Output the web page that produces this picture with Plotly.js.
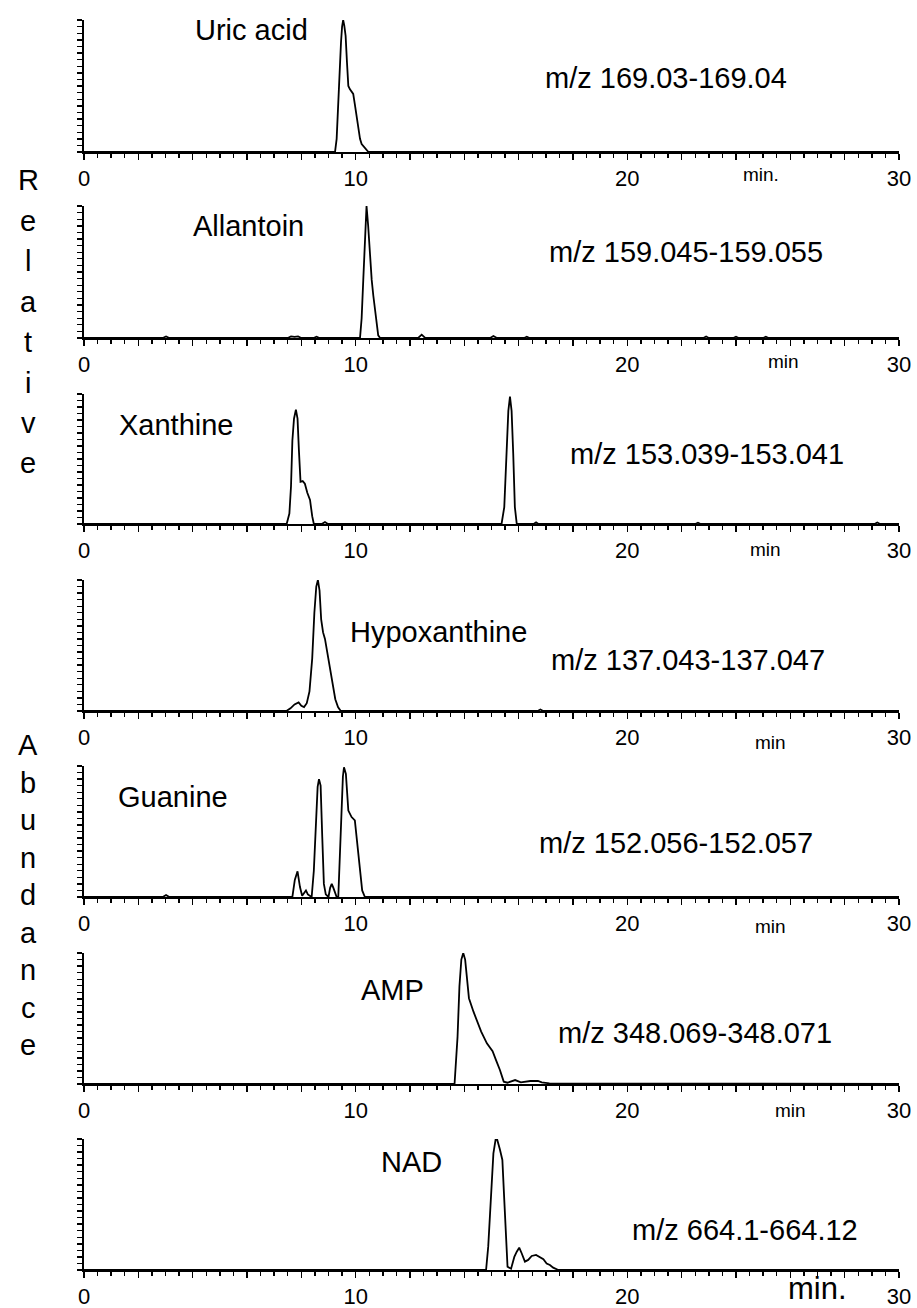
<!DOCTYPE html>
<html>
<head>
<meta charset="utf-8">
<script src="https://cdn.plot.ly/plotly-3.0.1.min.js"></script>
<style>html,body{margin:0;padding:0;background:#fff}#chart{width:917px;height:1308px}</style>
</head>
<body>
<div id="chart"></div>
<script>
// ---- data (retention time in min, relative abundance 0..1) ----
const compoundNames = ["Uric acid", "Allantoin", "Xanthine", "Hypoxanthine", "Guanine", "AMP", "NAD"];
const mzLabels = ["m/z 169.03-169.04", "m/z 159.045-159.055", "m/z 153.039-153.041", "m/z 137.043-137.047", "m/z 152.056-152.057", "m/z 348.069-348.071", "m/z 664.1-664.12"];
const minLabels = ["min.", "min", "min", "min", "min", "min", "min."];
const xTickLabels = ["0", "10", "20", "30"];
const sideWords = ["Relative", "Abundance"];

const uricT = [0, 9.24, 9.30, 9.36, 9.42, 9.46, 9.50, 9.54, 9.58, 9.63, 9.68, 9.73, 9.79, 9.85, 9.91, 9.97, 10.04, 10.10, 10.16, 10.22, 10.28, 10.36, 10.47, 30];
const uricY = [0, 0, 0.10, 0.42, 0.70, 0.83, 0.95, 1.0, 0.96, 0.88, 0.68, 0.50, 0.475, 0.46, 0.44, 0.36, 0.27, 0.18, 0.10, 0.06, 0.045, 0.025, 0.0, 0];

const allT = [0, 2.9, 3.02, 3.14, 7.5, 7.62, 7.75, 7.88, 8.0, 8.45, 8.56, 8.67, 10.16, 10.22, 10.28, 10.34, 10.40, 10.46, 10.53, 10.59, 10.65, 10.71, 10.77, 10.83, 10.9, 12.3, 12.43, 12.56, 14.95, 15.07, 15.2, 16.2, 16.3, 16.4, 22.8, 22.9, 23.0, 23.9, 24.0, 24.1, 25.0, 25.1, 25.2, 30];
const allY = [0, 0, 0.012, 0, 0, 0.012, 0.008, 0.012, 0, 0, 0.01, 0, 0, 0.15, 0.44, 0.73, 1.0, 0.85, 0.62, 0.44, 0.32, 0.21, 0.10, 0.02, 0, 0, 0.025, 0, 0, 0.015, 0, 0, 0.01, 0, 0, 0.012, 0, 0, 0.01, 0, 0, 0.01, 0, 0];

const xanT = [0, 7.46, 7.56, 7.62, 7.67, 7.73, 7.80, 7.86, 7.91, 7.97, 8.05, 8.13, 8.22, 8.32, 8.40, 8.46, 8.75, 8.87, 8.98, 15.37, 15.47, 15.56, 15.62, 15.68, 15.74, 15.80, 15.86, 15.93, 16.55, 16.64, 16.73, 22.5, 22.6, 22.7, 29.1, 29.2, 29.3, 30];
const xanY = [0, 0, 0.08, 0.29, 0.64, 0.81, 0.88, 0.81, 0.57, 0.325, 0.33, 0.31, 0.24, 0.185, 0.06, 0, 0, 0.015, 0, 0, 0.13, 0.62, 0.87, 0.98, 0.87, 0.54, 0.13, 0, 0, 0.012, 0, 0, 0.01, 0, 0, 0.012, 0, 0];

const hypT = [0, 7.45, 7.6, 7.75, 7.9, 8.0, 8.1, 8.2, 8.3, 8.4, 8.48, 8.55, 8.61, 8.67, 8.73, 8.80, 8.87, 8.95, 9.05, 9.15, 9.25, 9.35, 9.45, 16.7, 16.8, 16.9, 30];
const hypY = [0, 0, 0.02, 0.05, 0.065, 0.04, 0.03, 0.06, 0.15, 0.40, 0.75, 0.95, 1.0, 0.92, 0.70, 0.60, 0.55, 0.45, 0.33, 0.20, 0.09, 0.03, 0, 0, 0.012, 0, 0];

const guaT = [0, 2.9, 3.02, 3.14, 7.67, 7.76, 7.86, 7.95, 8.03, 8.10, 8.17, 8.24, 8.38, 8.46, 8.53, 8.60, 8.65, 8.71, 8.77, 8.83, 8.90, 9.0, 9.06, 9.12, 9.18, 9.30, 9.36, 9.42, 9.48, 9.53, 9.57, 9.64, 9.73, 9.85, 9.97, 10.07, 10.16, 10.24, 10.34, 30];
const guaY = [0, 0, 0.015, 0, 0, 0.13, 0.196, 0.076, 0.01, 0.03, 0.05, 0.02, 0, 0.20, 0.585, 0.84, 0.90, 0.85, 0.46, 0.10, 0.02, 0.0, 0.07, 0.10, 0.07, 0, 0, 0.33, 0.74, 0.92, 0.99, 0.94, 0.66, 0.61, 0.585, 0.38, 0.20, 0.05, 0, 0];

const ampT = [0, 13.64, 13.75, 13.82, 13.89, 13.96, 14.03, 14.10, 14.17, 14.34, 14.48, 14.62, 14.83, 15.04, 15.17, 15.31, 15.45, 15.59, 15.87, 16.08, 16.43, 16.71, 16.85, 17.13, 30];
const ampY = [0, 0, 0.36, 0.745, 0.95, 1.0, 0.95, 0.80, 0.655, 0.55, 0.477, 0.40, 0.31, 0.25, 0.18, 0.107, 0.018, 0.01, 0.03, 0.013, 0.023, 0.023, 0.013, 0.005, 0];

const nadT = [0, 14.80, 14.88, 14.97, 15.07, 15.15, 15.21, 15.31, 15.40, 15.47, 15.53, 15.59, 15.72, 15.84, 15.93, 16.02, 16.11, 16.23, 16.35, 16.48, 16.64, 16.78, 16.91, 17.03, 17.15, 17.27, 17.46, 30];
const nadY = [0, 0, 0.18, 0.535, 0.89, 0.995, 0.995, 0.92, 0.84, 0.535, 0.23, 0.025, 0.01, 0.10, 0.14, 0.17, 0.128, 0.064, 0.077, 0.107, 0.115, 0.10, 0.082, 0.05, 0.038, 0.018, 0, 0];

const seriesT = [uricT, allT, xanT, hypT, guaT, ampT, nadT];
const seriesY = [uricY, allY, xanY, hypY, guaY, ampY, nadY];

// ---- layout geometry (pixels) ----
const W = 917, H = 1308;
const plotLeft = 84, plotRight = 899;
const panelTop = [20, 206, 394, 580, 766, 953, 1139];
const panelBase = [152, 338, 524, 711, 897, 1084, 1270];
const namePos = [[251, 30], [248, 226], [176, 425], [438, 632], [173, 797], [392, 990], [411, 1162]];
const mzPos = [[666, 78], [686, 252], [707, 454], [688, 660], [676, 843], [695, 1033], [745, 1230]];
const minPos = [[761, 175], [783, 361], [765, 549], [770, 742], [770, 926], [790, 1110], [817, 1288]];
const minSize = [19, 19, 19, 19, 19, 19, 31];
const sideStart = [180, 745], sideStep = [40.5, 37.5], sideX = 28;

const FONT = "Liberation Sans, Arial, Helvetica, sans-serif";
const px = x => x / W;
const py = y => 1 - y / H;

const majorVals = [];
for (let v = 0; v <= 30; v += 2) majorVals.push(v);
const majorText = majorVals.map(v => xTickLabels.includes(String(v)) ? String(v) : "");

const traces = [];
const layout = {
  width: W, height: H,
  margin: {l: 0, r: 0, t: 0, b: 0},
  paper_bgcolor: "#fff", plot_bgcolor: "#fff",
  showlegend: false,
  font: {family: FONT, color: "#000"},
  annotations: []
};

for (let i = 0; i < 7; i++) {
  const n = i + 1;
  const sfx = n === 1 ? "" : String(n);
  traces.push({
    type: "scatter", mode: "lines",
    x: seriesT[i], y: seriesY[i],
    xaxis: "x" + sfx, yaxis: "y" + sfx,
    line: {color: "#000", width: 1.8},
    hoverinfo: "skip"
  });
  layout["xaxis" + sfx] = {
    domain: [px(plotLeft), px(plotRight)],
    anchor: "y" + sfx,
    range: [0, 30],
    showline: true, linecolor: "#000", linewidth: 2,
    showgrid: false, zeroline: false,
    ticks: "outside", ticklen: 6, tickwidth: 1.6, tickcolor: "#000",
    tickmode: "array", tickvals: majorVals, ticktext: majorText,
    tickfont: {family: FONT, size: 22, color: "#000"},
    minor: {dtick: 0.5, ticks: "outside", ticklen: 4, tickwidth: 1.4, tickcolor: "#000", showgrid: false},
    fixedrange: true
  };
  layout["yaxis" + sfx] = {
    domain: [py(panelBase[i]), py(panelTop[i])],
    anchor: "x" + sfx,
    range: [0, 1],
    showline: true, linecolor: "#000", linewidth: 2,
    showgrid: false, zeroline: false,
    ticks: "outside", ticklen: 5, tickwidth: 1.4, tickcolor: "#000",
    dtick: 0.05, tick0: 0,
    showticklabels: false,
    fixedrange: true
  };
  layout.annotations.push({
    xref: "paper", yref: "paper", x: px(namePos[i][0]), y: py(namePos[i][1]),
    text: compoundNames[i], showarrow: false, xanchor: "center", yanchor: "middle",
    font: {family: FONT, size: 29, color: "#000"}
  });
  layout.annotations.push({
    xref: "paper", yref: "paper", x: px(mzPos[i][0]), y: py(mzPos[i][1]),
    text: mzLabels[i], showarrow: false, xanchor: "center", yanchor: "middle",
    font: {family: FONT, size: 29, color: "#000"}
  });
  layout.annotations.push({
    xref: "paper", yref: "paper", x: px(minPos[i][0]), y: py(minPos[i][1]),
    text: minLabels[i], showarrow: false, xanchor: "center", yanchor: "middle",
    font: {family: FONT, size: minSize[i], color: "#000"}
  });
}

sideWords.forEach((w, k) => {
  [...w].forEach((ch, j) => {
    layout.annotations.push({
      xref: "paper", yref: "paper", x: px(sideX), y: py(sideStart[k] + j * sideStep[k]),
      text: ch, showarrow: false, xanchor: "center", yanchor: "middle",
      font: {family: FONT, size: 29, color: "#000"}
    });
  });
});

Plotly.newPlot("chart", traces, layout, {staticPlot: true, displayModeBar: false});
</script>
</body>
</html>
